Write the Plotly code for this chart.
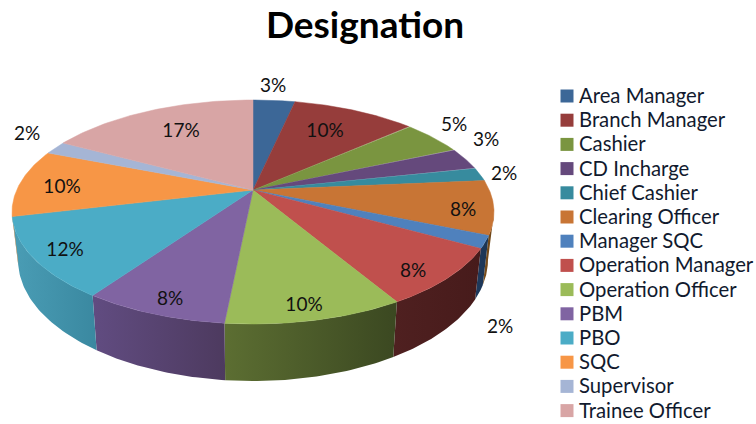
import numpy as np
import plotly.graph_objects as go

categories = ["Area Manager", "Branch Manager", "Cashier", "CD Incharge", "Chief Cashier",
              "Clearing Officer", "Manager SQC", "Operation Manager", "Operation Officer",
              "PBM", "PBO", "SQC", "Supervisor", "Trainee Officer"]
values = [3.4, 10.0, 5.0, 3.2, 2.0, 7.8, 1.8, 8.4, 10.0, 8.1, 11.6, 9.8, 1.9, 17.1]
percent_labels = ["3%", "10%", "5%", "3%", "2%", "8%", "2%", "8%", "10%", "8%", "12%", "10%", "2%", "17%"]
title_text = "Designation"

colors = ["#3c6797", "#963d3b", "#7a9540", "#65497c", "#378b9e", "#c87535", "#4f81bd",
          "#c0504d", "#9bbb59", "#8064a2", "#4bacc6", "#f79646", "#a5b5d5", "#d8a5a5"]
wall_colors = {5: ("#7a4e1c", "#6b4416"), 6: ("#1f3a5e", "#1c3553"), 7: ("#4f2020", "#471b1b"),
               8: ("#5c6e32", "#3b4821"), 9: ("#614c81", "#4d3a5f"), 10: ("#4a9db5", "#3a88a0")}
label_x = [273, 325, 454, 486, 504, 463, 500, 413, 304, 170, 65, 62, 27, 181]
label_y = [87, 132, 126, 141, 175, 211, 328, 272, 306, 300, 251, 188, 135, 132]

CX, CY, RX, RY, A = 253, 212, 241, 112, 0.196
BX, BCY, BRY = 0.975, 260, 121


def disc(theta):
    u, v = np.sin(theta), -np.cos(theta)
    d = 1 - A * v
    return u * np.sqrt(1 - A * A) / d, (v - A) / d


def top(theta):
    p, q = disc(theta)
    return CX + RX * p, CY + RY * q


def bottom(theta):
    p, q = disc(theta)
    return CX + RX * BX * p, BCY + BRY * q


edges = np.cumsum([0] + values) / sum(values) * 2 * np.pi
apex_x, apex_y = CX, CY + RY * (-A)
vis_lo, vis_hi = np.arccos(-A), 2 * np.pi - np.arccos(-A)

fig = go.Figure()

for i in range(len(values)):
    lo, hi = max(edges[i], vis_lo), min(edges[i + 1], vis_hi)
    if hi <= lo:
        continue
    t = np.linspace(lo, hi, 40)
    tx, ty = top(t)
    bx, by = bottom(t[::-1])
    left, right = wall_colors.get(i, (colors[i], colors[i]))
    fig.add_trace(go.Scatter(
        x=np.r_[tx, bx, tx[0]], y=np.r_[ty, by, ty[0]], mode="lines", fill="toself",
        line=dict(width=0, color=right), hoverinfo="skip", showlegend=False,
        fillgradient=dict(type="horizontal", colorscale=[[0, left], [1, right]])))

for i in range(len(values)):
    t = np.linspace(edges[i], edges[i + 1], 60)
    tx, ty = top(t)
    fig.add_trace(go.Scatter(
        x=np.r_[apex_x, tx, apex_x], y=np.r_[apex_y, ty, apex_y], mode="lines", fill="toself",
        fillcolor=colors[i], line=dict(width=0.5, color=colors[i]), name=categories[i],
        hoverinfo="name", showlegend=False))

fig.add_trace(go.Scatter(
    x=label_x, y=label_y, mode="text", text=percent_labels, hoverinfo="skip", showlegend=False,
    textposition="middle center", textfont=dict(family="Lato", size=19, color="#111111")))

legend_y = 96 + 24.2 * np.arange(len(categories))
fig.add_trace(go.Scatter(
    x=[567] * len(categories), y=legend_y, mode="markers", hoverinfo="skip", showlegend=False,
    marker=dict(symbol="square", size=13, color=colors, line=dict(width=0))))
fig.add_trace(go.Scatter(
    x=[579] * len(categories), y=legend_y + 2, mode="text", text=categories,
    textposition="middle right", hoverinfo="skip", showlegend=False,
    textfont=dict(family="Lato", size=20.3, color="#111a2e")))

fig.update_layout(
    width=756, height=424, margin=dict(l=0, r=0, t=0, b=0), autosize=False,
    paper_bgcolor="white", plot_bgcolor="white", showlegend=False,
    title=dict(text=title_text, x=365 / 756, y=1 - 25 / 424, xanchor="center", yanchor="middle",
               font=dict(family="Lato", size=37, color="black", weight="bold")),
    xaxis=dict(range=[0, 756], visible=False, fixedrange=True),
    yaxis=dict(range=[424, 0], visible=False, fixedrange=True))

fig.write_html("out.html", config={"displayModeBar": False},
               post_script="document.body.style.margin='0';document.documentElement.style.overflow='hidden';")
